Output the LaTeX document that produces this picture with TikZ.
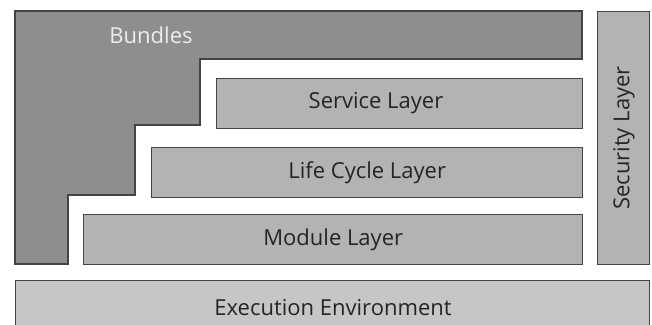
\documentclass[tikz,border=0pt]{standalone}
\usepackage{fontspec}
\setmainfont{Open Sans}
\definecolor{bundlegray}{HTML}{8E8E8E}
\definecolor{layergray}{HTML}{B3B3B3}
\definecolor{envgray}{HTML}{C6C6C6}
\definecolor{edgegray}{HTML}{444444}
\definecolor{txtdark}{HTML}{252525}
\begin{document}
\begin{tikzpicture}[x=1pt,y=-1pt,
  layerbox/.style={draw=edgegray,line width=1.4pt,fill=layergray,inner sep=0pt,anchor=north west},
  lbl/.style={font=\fontsize{22}{26}\selectfont,text=txtdark,inner sep=0pt}]
\useasboundingbox (0,0) rectangle (652,324);
\fill[white] (0,0) rectangle (652,324);
% Bundles
\draw[draw=edgegray,line width=1.4pt,fill=bundlegray]
  (15,11) -- (582,11) -- (582,59) -- (200,59) -- (200,125) -- (135,125) -- (135,195) -- (68,195) -- (68,264) -- (15,264) -- cycle;
\node[lbl,text=white!93!black] (bundles) at (151,35) {Bundles};
% Layers
\node[layerbox,minimum width=366pt,minimum height=50pt] (service) at (216,78) {};
\node[lbl] (servicet) at (376,103) {Service Layer};
\node[layerbox,minimum width=431pt,minimum height=50pt] (life) at (151,147) {};
\node[lbl] at (life.center) {Life Cycle Layer};
\node[layerbox,minimum width=499pt,minimum height=50pt] (module) at (83,214) {};
\node[lbl] at (module.center) {Module Layer};
\node[layerbox,minimum width=52pt,minimum height=253pt] (security) at (597,11) {};
\node[lbl,rotate=90] at (624,138) {Security Layer};
\node[layerbox,fill=envgray,minimum width=634pt,minimum height=60pt] (env) at (15,280) {};
\node[lbl] at (333,308) {Execution Environment};
\end{tikzpicture}
\end{document}
